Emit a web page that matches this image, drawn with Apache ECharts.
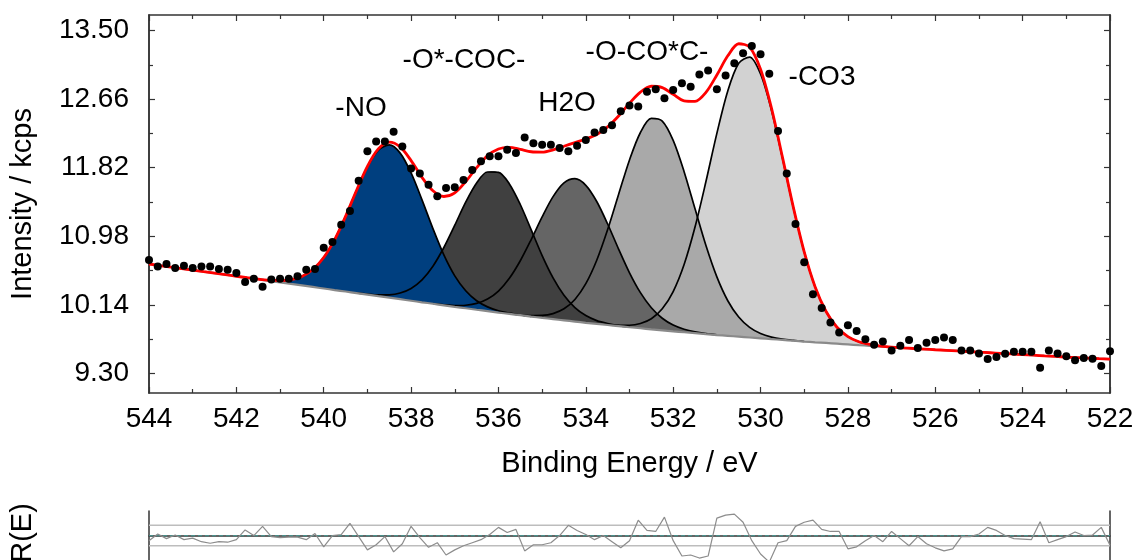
<!DOCTYPE html>
<html><head><meta charset="utf-8">
<script src="https://cdn.jsdelivr.net/npm/echarts@6/dist/echarts.min.js"></script>
<style>html,body{margin:0;padding:0;background:#fff}#c{width:1138px;height:560px}</style>
</head><body><div id="c"></div>
<script>
// ---- model grid (binding energy, eV) ----
const gridStart = 544, gridStep = 0.25;
// Shirley-type background (kcps) on the model grid, 544 -> 522
const background = [10.640,10.621,10.603,10.584,10.565,10.546,10.528,10.509,10.490,10.471,10.453,10.434,10.415,10.396,10.378,10.359,
10.340,10.321,10.303,10.284,10.265,10.246,10.228,10.209,10.190,10.171,10.153,10.134,10.115,10.098,10.080,10.063,
10.045,10.029,10.013,9.996,9.980,9.965,9.950,9.935,9.920,9.906,9.893,9.879,9.865,9.853,9.840,9.828,
9.815,9.804,9.793,9.781,9.770,9.760,9.750,9.740,9.730,9.720,9.710,9.700,9.690,9.681,9.673,9.664,
9.655,9.646,9.638,9.629,9.620,9.613,9.605,9.598,9.590,9.583,9.575,9.568,9.560,9.553,9.545,9.538,
9.530,9.523,9.515,9.508,9.500,9.494,9.488,9.481,9.475];

// fitted components: height above background, starting energy, step = gridStep
const noStart = 541.75;
const noVals = [0.001,0.003,0.009,0.022,0.052,0.110,0.214,0.380,0.618,0.921,1.255,1.566,1.789,1.870,1.789,1.566,1.255,0.921,0.618,0.380,0.214,0.110,0.052,0.022,0.009,0.003,0.001];
const cocStart = 539.25;
const cocVals = [0.002,0.006,0.015,0.035,0.076,0.151,0.275,0.460,0.708,1.000,1.300,1.553,1.704,1.718,1.592,1.356,1.062,0.763,0.505,0.307,0.171,0.088,0.041,0.018,0.007,0.003];
const h2oStart = 537.5;
const h2oVals = [0.003,0.007,0.016,0.037,0.077,0.148,0.264,0.436,0.667,0.944,1.237,1.500,1.684,1.750,1.684,1.500,1.237,0.944,0.667,0.436,0.264,0.148,0.077,0.037,0.016,0.007,0.003];
const coccStart = 535.75;
const coccVals = [0.002,0.005,0.012,0.030,0.068,0.141,0.271,0.479,0.780,1.169,1.613,2.050,2.398,2.583,2.562,2.339,1.967,1.523,1.085,0.712,0.430,0.240,0.123,0.058,0.025,0.010,0.004,0.001];
const co3Start = 533.5;
const co3Vals = [0.003,0.010,0.025,0.059,0.130,0.263,0.488,0.830,1.300,1.869,2.470,3.000,3.348,3.434,3.237,2.804,2.232,1.633,1.097,0.678,0.385,0.201,0.096,0.042,0.017,0.006,0.002];

const peakLabels = ['-NO','-O*-COC-','H2O','-O-CO*C-','-CO3'];

// ---- measured spectrum (kcps), 544 -> 522 eV every 0.2 eV ----
const dataStart = 544, dataStep = 0.2;
const measured = [10.69,10.61,10.64,10.59,10.62,10.59,10.61,10.61,10.58,10.57,
10.53,10.42,10.46,10.36,10.45,10.46,10.46,10.49,10.57,10.58,
10.84,10.91,11.12,11.29,11.66,12.02,12.14,12.14,12.26,12.08,
11.81,11.75,11.61,11.47,11.57,11.58,11.67,11.79,11.90,11.96,
11.96,12.04,12.00,12.19,12.12,12.10,12.10,12.06,12.02,12.09,
12.16,12.25,12.28,12.34,12.51,12.58,12.57,12.75,12.78,12.67,
12.77,12.855,12.81,12.96,13.01,12.78,12.95,13.10,13.22,13.31,
13.21,12.97,12.27,11.75,11.13,10.66,10.27,10.10,9.925,9.80,
9.89,9.82,9.717,9.65,9.69,9.58,9.64,9.71,9.61,9.675,
9.71,9.74,9.71,9.58,9.58,9.545,9.475,9.50,9.54,9.565,
9.565,9.565,9.37,9.58,9.545,9.51,9.46,9.49,9.48,9.39,9.57];

// ---- normalised residual R(E), same energies as the measured spectrum ----
const residual = [-0.5,0.15,-0.3,0.05,-0.4,-0.25,-0.6,-0.75,-0.6,-0.65,
-0.4,0.55,0,0.9,-0.1,-0.2,-0.15,-0.15,-0.4,0.2,
-1.1,0,0.1,1.2,-0.1,-1.4,-0.9,-0.1,-1.6,-0.8,
0.9,-0.2,-1.15,-0.7,-1.9,-1.4,-1.0,-0.7,-0.4,0.1,
0.8,0.3,0.6,-1.5,-0.9,-0.9,-0.7,0,1.0,0.5,
0.1,-0.4,0,-0.6,-1.2,-0.5,1.5,0.5,0.4,1.8,
-0.5,-2.0,-1.9,-2.2,-2.0,1.7,2.0,2.1,1.3,-0.5,
-1.8,-2.6,-0.7,-0.5,0.9,1.3,1.5,0.6,0.4,0.4,
-1.3,-1.1,-0.5,0,-0.6,0.4,-0.3,-1.0,-0.1,-0.8,
-1.2,-1.5,-1.3,-0.1,-0.1,0.15,0.8,0.5,0,-0.3,
-0.35,-0.4,1.35,-0.7,-0.4,-0.1,0.35,0,0.05,0.8,-0.95];
const residualBands = [1, -1];

// ---- axes ----
const yTickLabels = [9.30, 10.14, 10.98, 11.82, 12.66, 13.50];
const yMinorTicks = [9.72, 10.56, 11.40, 12.24, 13.08];

// ---------------------------------------------------------------
const gridE = background.map((_, k) => +(gridStart - k * gridStep).toFixed(2));
const dataE = measured.map((_, i) => +(dataStart - i * dataStep).toFixed(2));
const idx = E => Math.round((gridStart - E) / gridStep);
const comps = [
  {start: noStart, vals: noVals, color: '#003f7f'},
  {start: cocStart, vals: cocVals, color: '#404040'},
  {start: h2oStart, vals: h2oVals, color: '#656565'},
  {start: coccStart, vals: coccVals, color: '#a9a9a9'},
  {start: co3Start, vals: co3Vals, color: '#d2d2d2'}
];
const envelope = background.slice();
comps.forEach(c => { const i0 = idx(c.start); c.vals.forEach((v, n) => { envelope[i0 + n] += v; }); });

const FONT = '"Liberation Sans", Arial, Helvetica, sans-serif';
const series = [];
// fills between background and background+component; -NO painted last (on top)
comps.slice().reverse().forEach(c => {
  const i0 = idx(c.start);
  const upper = c.vals.map((v, n) => [gridE[i0 + n], background[i0 + n] + v]);
  const lower = c.vals.map((v, n) => [gridE[i0 + n], background[i0 + n]]);
  series.push({type: 'custom', xAxisIndex: 0, yAxisIndex: 0, silent: true, z: 2, clip: true,
    data: [[gridE[i0], background[i0]]],
    renderItem: function (params, api) {
      const pts = upper.map(p => api.coord(p)).concat(lower.slice().reverse().map(p => api.coord(p)));
      return {type: 'polygon', shape: {points: pts, smooth: 0.3}, style: {fill: c.color, stroke: null}};
    }});
});
// component outlines
comps.forEach(c => {
  const i0 = idx(c.start);
  series.push({type: 'line', xAxisIndex: 0, yAxisIndex: 0, silent: true, symbol: 'none', smooth: 0.3,
    lineStyle: {color: '#000', width: 1.7}, z: 3,
    data: c.vals.map((v, n) => [gridE[i0 + n], background[i0 + n] + v])});
});
// background
series.push({type: 'line', xAxisIndex: 0, yAxisIndex: 0, silent: true, symbol: 'none', smooth: 0.3,
  lineStyle: {color: '#8a8a8a', width: 2.2}, z: 3,
  data: gridE.map((e, k) => [e, background[k]])});
// envelope
series.push({type: 'line', xAxisIndex: 0, yAxisIndex: 0, silent: true, symbol: 'none', smooth: 0.3,
  lineStyle: {color: '#ff0000', width: 2.8}, z: 4,
  data: gridE.map((e, k) => [e, envelope[k]])});
// measured points
series.push({type: 'scatter', xAxisIndex: 0, yAxisIndex: 0, silent: true, symbol: 'circle', symbolSize: 8,
  itemStyle: {color: '#000', opacity: 1}, z: 5,
  data: measured.map((v, i) => [dataE[i], v])});
// residual panel
residualBands.forEach(b => series.push({type: 'line', xAxisIndex: 2, yAxisIndex: 4, silent: true, symbol: 'none', z: 2,
  lineStyle: {color: '#bdbdbd', width: 1.5}, data: [[544, b], [522, b]]}));
series.push({type: 'line', xAxisIndex: 2, yAxisIndex: 4, silent: true, symbol: 'none', z: 2,
  lineStyle: {color: '#4a8f8a', width: 1.2, type: [4, 3]}, data: [[544, 0], [522, 0]]});
series.push({type: 'line', xAxisIndex: 2, yAxisIndex: 4, silent: true, symbol: 'none', z: 3,
  lineStyle: {color: '#8c8c8c', width: 1.2}, data: residual.map((r, i) => [dataE[i], r])});

const axisLineStyle = {show: true, lineStyle: {color: '#333', width: 1.5}};
const xCommon = {type: 'value', min: 522, max: 544, interval: 2, inverse: true, splitLine: {show: false}, axisLine: axisLineStyle,
  axisTick: {show: true, inside: true, length: 6, lineStyle: {color: '#333', width: 1.2}},
  minorTick: {show: true, splitNumber: 2, length: 4, lineStyle: {color: '#333', width: 1.2}}};
const yRange = {type: 'value', min: 9.06, max: 13.69, splitLine: {show: false}, axisLine: axisLineStyle};

const option = {
  backgroundColor: '#fff',
  animation: false,
  grid: [
    {left: 149, right: 28, top: 15, height: 378, containLabel: false, outerBoundsMode: 'none'},
    {left: 149, right: 28, top: 511, height: 89, containLabel: false, outerBoundsMode: 'none'}
  ],
  xAxis: [
    Object.assign({}, xCommon, {gridIndex: 0, position: 'bottom',
      axisLabel: {show: true, fontSize: 28, fontFamily: FONT, color: '#000', margin: 12, showMinLabel: true, showMaxLabel: true},
      name: 'Binding Energy / eV', nameLocation: 'middle', nameGap: 56,
      nameTextStyle: {fontSize: 29, fontFamily: FONT, color: '#000'}}),
    Object.assign({}, xCommon, {gridIndex: 0, position: 'top', axisLabel: {show: false}}),
    {type: 'value', gridIndex: 1, min: 522, max: 544, inverse: true, axisLine: axisLineStyle, position: 'top',
      axisTick: {show: false}, axisLabel: {show: false}, splitLine: {show: false}}
  ],
  yAxis: [
    Object.assign({}, yRange, {gridIndex: 0, position: 'left',
      axisTick: {show: true, inside: true, length: 6, customValues: yTickLabels, lineStyle: {color: '#333', width: 1.2}},
      axisLabel: {show: true, customValues: yTickLabels, formatter: v => v.toFixed(2), fontSize: 28, fontFamily: FONT, color: '#000', margin: 20},
      name: 'Intensity / kcps', nameLocation: 'middle', nameGap: 112, nameRotate: 90,
      nameTextStyle: {fontSize: 29, fontFamily: FONT, color: '#000'}}),
    Object.assign({}, yRange, {gridIndex: 0, position: 'left', axisLabel: {show: false},
      axisTick: {show: true, inside: true, length: 4, customValues: yMinorTicks, lineStyle: {color: '#333', width: 1.2}}}),
    Object.assign({}, yRange, {gridIndex: 0, position: 'right', axisLabel: {show: false},
      axisTick: {show: true, inside: true, length: 6, customValues: yTickLabels, lineStyle: {color: '#333', width: 1.2}}}),
    Object.assign({}, yRange, {gridIndex: 0, position: 'right', axisLabel: {show: false},
      axisTick: {show: true, inside: true, length: 4, customValues: yMinorTicks, lineStyle: {color: '#333', width: 1.2}}}),
    {type: 'value', gridIndex: 1, min: -6.3, max: 2.4, position: 'left', axisLine: axisLineStyle,
      axisTick: {show: false}, axisLabel: {show: false}, splitLine: {show: false}},
    {type: 'value', gridIndex: 1, min: -6.3, max: 2.4, position: 'right', axisLine: axisLineStyle,
      axisTick: {show: false}, axisLabel: {show: false}, splitLine: {show: false}}
  ],
  graphic: [
    {type: 'text', x: 361, y: 108, style: {text: peakLabels[0], font: '28px ' + FONT, fill: '#000', align: 'center', verticalAlign: 'middle'}},
    {type: 'text', x: 464, y: 60, style: {text: peakLabels[1], font: '28px ' + FONT, fill: '#000', align: 'center', verticalAlign: 'middle'}},
    {type: 'text', x: 567, y: 103, style: {text: peakLabels[2], font: '28px ' + FONT, fill: '#000', align: 'center', verticalAlign: 'middle'}},
    {type: 'text', x: 647, y: 52, style: {text: peakLabels[3], font: '28px ' + FONT, fill: '#000', align: 'center', verticalAlign: 'middle'}},
    {type: 'text', x: 822, y: 77, style: {text: peakLabels[4], font: '28px ' + FONT, fill: '#000', align: 'center', verticalAlign: 'middle'}},
    {type: 'text', x: 23, y: 533, rotation: Math.PI / 2, style: {text: 'R(E)', font: '29px ' + FONT, fill: '#000', align: 'center', verticalAlign: 'middle'}}
  ],
  series: series
};
const chart = echarts.init(document.getElementById('c'), null, {renderer: 'canvas'});
chart.setOption(option);
</script></body></html>
